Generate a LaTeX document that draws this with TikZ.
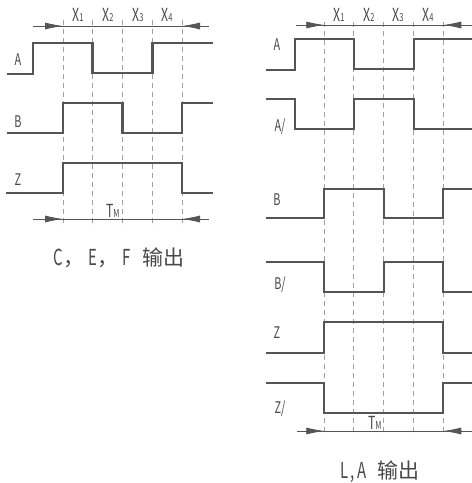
\documentclass[tikz,border=0pt]{standalone}
\usepackage{fontspec}
\setmainfont{Noto Sans CJK SC}
\newfontfamily\narrowfont[FakeStretch=0.68]{Noto Sans CJK SC}
\usetikzlibrary{arrows.meta}
\definecolor{wavecol}{HTML}{555555}
\definecolor{guidecol}{HTML}{A0A0A0}
\definecolor{dimcol}{HTML}{555555}
\definecolor{txtcol}{HTML}{4A4A4A}
\newcommand{\sig}[1]{{\narrowfont\fontsize{16}{16}\selectfont #1}}
\newcommand{\xsub}[2]{{\narrowfont\fontsize{18}{18}\selectfont #1\kern-0.3pt{\fontsize{11}{11}\selectfont #2}}}
\newcommand{\nl}[1]{{\narrowfont\fontsize{22}{22}\selectfont #1}}
\begin{document}
\begin{tikzpicture}[x=1pt,y=-1pt,
  wave/.style={draw=wavecol,line width=2.8pt},
  guide/.style={draw=guidecol,line width=0.8pt,dash pattern=on 5pt off 4pt},
  dimline/.style={draw=dimcol,line width=0.8pt},
  dimarrow/.style={draw=dimcol,line width=0.8pt,-{Latex[length=18pt,width=7pt]}},
  lbl/.style={text=txtcol,inner sep=0pt,anchor=center},
  captext/.style={text=txtcol,inner sep=0pt,anchor=center,font=\fontsize{21}{21}\selectfont}]
\useasboundingbox (0,0) rectangle (472,483);
\fill[white] (0,0) rectangle (472,483);

% ---------- left diagram ----------
\foreach \i/\x in {1/63,2/92.5,3/122.5,4/152.5,5/182}{
  \coordinate (Lt\i) at (\x,20);
  \coordinate (Lb\i) at (\x,227);
  \draw[guide] (Lt\i) -- (Lb\i);
}
\coordinate (LtopL) at (33,26); \coordinate (LtopR) at (209,26);
\coordinate (Ltop1) at (63,26); \coordinate (Ltop5) at (182,26);
\draw[dimline] (LtopL) -- (LtopR);
\draw[dimarrow] (LtopL) -- (Ltop1);
\draw[dimarrow] (LtopR) -- (Ltop5);
\coordinate (LbotL) at (33,219); \coordinate (LbotR) at (209,219);
\coordinate (Lbot1) at (63,219); \coordinate (Lbot5) at (182,219);
\draw[dimline] (LbotL) -- (LbotR);
\draw[dimarrow] (LbotL) -- (Lbot1);
\draw[dimarrow] (LbotR) -- (Lbot5);

\draw[wave] (7,74) -- (33,74) -- (33,43) -- (92.5,43) -- (92.5,73) -- (152.5,73) -- (152.5,43) -- (213,43);
\draw[wave] (7,133) -- (63,133) -- (63,103) -- (122.5,103) -- (122.5,133) -- (182,133) -- (182,103) -- (213,103);
\draw[wave] (6,193) -- (63,193) -- (63,163) -- (182,163) -- (182,193) -- (213,193);

\node[lbl] (LA) at (18,60) {\sig{A}};
\node[lbl] (LB) at (18,122) {\sig{B}};
\node[lbl] (LZ) at (18,180) {\sig{Z}};
\node[lbl] (LX1) at (78,15) {\xsub{X}{1}};
\node[lbl] (LX2) at (108,15) {\xsub{X}{2}};
\node[lbl] (LX3) at (138,15) {\xsub{X}{3}};
\node[lbl] (LX4) at (167,15) {\xsub{X}{4}};
\node[lbl] (LTM) at (113,211) {\xsub{T}{M}};
\node[captext] (Lcap) at (119,258) {\nl{C}，\hspace{4pt}\nl{E}，\hspace{4pt}\nl{F}\hspace{12pt}输出};

% ---------- right diagram ----------
\foreach \i/\x in {1/324.3,2/353.7,3/383.7,4/413.7,5/443.3}{
  \coordinate (Rt\i) at (\x,22);
  \coordinate (Rb\i) at (\x,436);
  \draw[guide] (Rt\i) -- (Rb\i);
}
\coordinate (RtopL) at (296,25); \coordinate (RtopR) at (472,25);
\coordinate (Rtop1) at (324.3,25); \coordinate (Rtop5) at (443.3,25);
\draw[dimline] (RtopL) -- (RtopR);
\draw[dimarrow] (RtopL) -- (Rtop1);
\draw[dimarrow] (RtopR) -- (Rtop5);
\coordinate (RbotL) at (297,431); \coordinate (RbotR) at (472,431);
\coordinate (Rbot1) at (324.3,431); \coordinate (Rbot5) at (443.3,431);
\draw[dimline] (RbotL) -- (RbotR);
\draw[dimarrow] (RbotL) -- (Rbot1);
\draw[dimarrow] (RbotR) -- (Rbot5);

\draw[wave] (266,70) -- (295,70) -- (295,39) -- (354,39) -- (354,69) -- (414,69) -- (414,39) -- (473,39);
\draw[wave] (266,99) -- (295,99) -- (295,129) -- (354,129) -- (354,99) -- (414,99) -- (414,129) -- (473,129);
\draw[wave] (266,218) -- (324,218) -- (324,189) -- (384,189) -- (384,218) -- (443,218) -- (443,189) -- (473,189);
\draw[wave] (266,262) -- (324,262) -- (324,292) -- (384,292) -- (384,262) -- (443,262) -- (443,292) -- (473,292);
\draw[wave] (266,353) -- (324,353) -- (324,322) -- (443,322) -- (443,353) -- (473,353);
\draw[wave] (266,383) -- (324,383) -- (324,413) -- (443,413) -- (443,383) -- (473,383);

\node[lbl] (RA) at (277,45) {\sig{A}};
\node[lbl] (RAn) at (280,127) {\sig{A/}};
\node[lbl] (RB) at (277,200) {\sig{B}};
\node[lbl] (RBn) at (280,285) {\sig{B/}};
\node[lbl] (RZ) at (277,333) {\sig{Z}};
\node[lbl] (RZn) at (280,409) {\sig{Z/}};
\node[lbl] (RX1) at (339,15) {\xsub{X}{1}};
\node[lbl] (RX2) at (369,15) {\xsub{X}{2}};
\node[lbl] (RX3) at (398,15) {\xsub{X}{3}};
\node[lbl] (RX4) at (428,15) {\xsub{X}{4}};
\node[lbl] (RTM) at (375,423) {\xsub{T}{M}};
\node[captext] (Rcap) at (380,472) {\nl{L\hspace{2pt},\hspace{3pt}A}\hspace{11pt}输出};
\end{tikzpicture}
\end{document}
